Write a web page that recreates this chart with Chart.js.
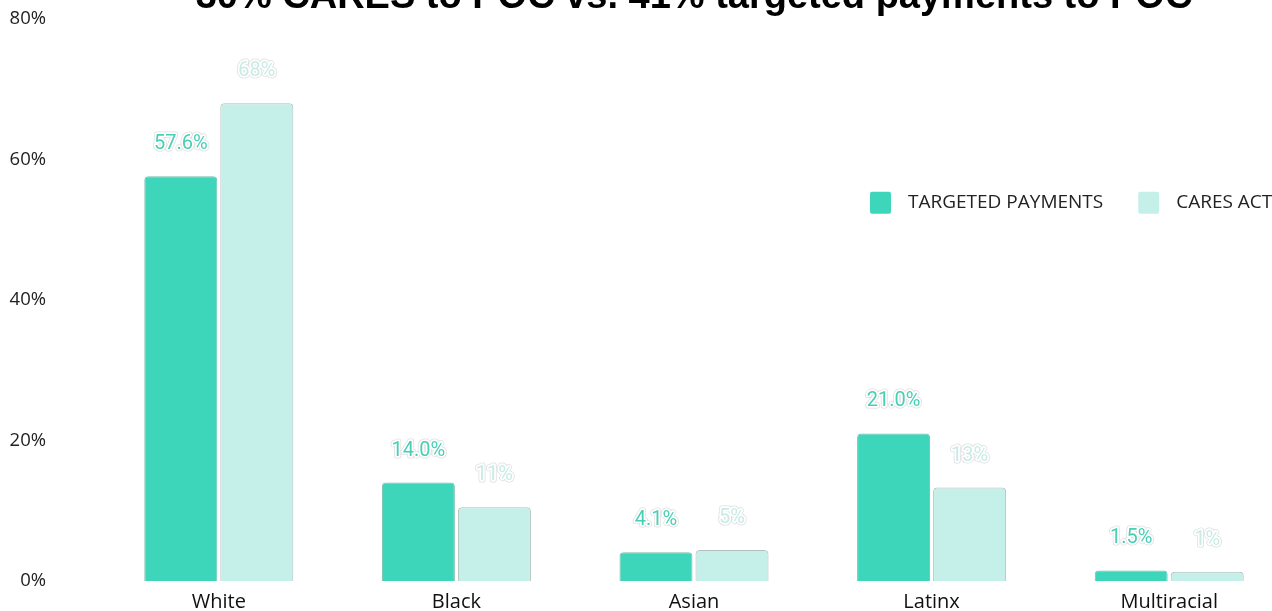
<!DOCTYPE html>
<html>
<head>
<meta charset="utf-8">
<script src="https://cdn.jsdelivr.net/npm/chart.js@4.4.1/dist/chart.umd.min.js"></script>
<style>
  html, body { margin: 0; padding: 0; background: #fff; overflow: hidden; width: 1272px; height: 611px; }
  #race { position: absolute; left: 0; top: -23px; }
</style>
</head>
<body>
<canvas id="race" width="1288" height="644"></canvas>
<script>
const groups = ['White', 'Black', 'Asian', 'Latinx', 'Multiracial'];
const targeted = [57.6, 14.0, 4.1, 21.0, 1.5];
const targetedLabels = ['57.6%', '14.0%', '4.1%', '21.0%', '1.5%'];
const cares = [68, 10.5, 4.4, 13.3, 1.3];
const caresLabels = ['68%', '11%', '5%', '13%', '1%'];
const yTicks = [0, 20, 40, 60, 80];

const teal = 'rgb(61, 214, 187)';
const paleTeal = 'rgb(197, 240, 233)';

// value labels above each bar, with a light halo
const barLabels = {
  id: 'barLabels',
  afterDatasetsDraw(chart) {
    const ctx = chart.ctx;
    ctx.save();
    ctx.font = '20px Roboto';
    ctx.textAlign = 'center';
    ctx.textBaseline = 'middle';
    ctx.lineJoin = 'round';
    chart.data.datasets.forEach((ds, i) => {
      const meta = chart.getDatasetMeta(i);
      meta.data.forEach((bar, j) => {
        const txt = ds.valueLabels[j];
        const y = bar.y - 32;
        ctx.strokeStyle = 'rgba(190,190,190,0.5)';
        ctx.lineWidth = 5;
        ctx.strokeText(txt, bar.x, y);
        ctx.strokeStyle = '#fff';
        ctx.lineWidth = 3.5;
        ctx.strokeText(txt, bar.x, y);
        ctx.fillStyle = ds.labelColor;
        ctx.fillText(txt, bar.x, y);
      });
    });
    ctx.restore();
  }
};

// legend floating inside the plot, right side
const floatLegend = {
  id: 'floatLegend',
  afterDraw(chart) {
    const ctx = chart.ctx;
    const area = chart.chartArea;
    let x = area.left + 770;
    const top = area.top + 173;
    ctx.save();
    ctx.font = '19px "Open Sans"';
    ctx.textBaseline = 'middle';
    chart.data.datasets.forEach(ds => {
      ctx.fillStyle = ds.backgroundColor;
      ctx.beginPath();
      ctx.roundRect(x, top, 21, 22, 2);
      ctx.fill();
      ctx.fillStyle = '#222';
      ctx.fillText(ds.label, x + 38, top + 11);
      x += 38 + ctx.measureText(ds.label).width + 35;
    });
    ctx.restore();
  }
};

const chart = new Chart(document.getElementById('race'), {
  type: 'bar',
  data: {
    labels: groups,
    datasets: [{
      label: 'TARGETED PAYMENTS',
      data: targeted,
      valueLabels: targetedLabels,
      labelColor: 'rgb(72, 208, 182)',
      backgroundColor: teal,
      borderColor: 'rgb(120, 190, 175)',
      borderWidth: 1,
      borderRadius: { topLeft: 4, topRight: 4 },
      categoryPercentage: 0.64,
      barPercentage: 0.96
    }, {
      label: 'CARES ACT',
      data: cares,
      valueLabels: caresLabels,
      labelColor: 'rgb(200, 236, 229)',
      backgroundColor: paleTeal,
      borderColor: 'rgb(180, 190, 188)',
      borderWidth: 1,
      borderRadius: { topLeft: 4, topRight: 4 },
      categoryPercentage: 0.64,
      barPercentage: 0.96
    }]
  },
  options: {
    responsive: false,
    animation: false,
    layout: { padding: 0 },
    plugins: {
      legend: { display: false },
      tooltip: { enabled: false },
      title: {
        display: true,
        fullSize: false,
        text: '30% CARES to POC vs. 41% targeted payments to POC',
        color: '#000',
        font: { family: '"Liberation Sans", Arial', size: 38, weight: 'bold', lineHeight: 1.1 },
        padding: 0
      }
    },
    scales: {
      x: {
        grid: { display: false, drawTicks: false },
        border: { display: false },
        ticks: { color: '#111', font: { family: '"Open Sans"', size: 20 }, padding: 9 },
        afterFit: s => { s.height = 40; }
      },
      y: {
        min: 0,
        max: 80,
        grid: { display: false, drawTicks: false },
        border: { display: false },
        afterBuildTicks: s => { s.ticks = yTicks.map(v => ({ value: v })); },
        ticks: {
          color: '#222',
          font: { family: '"Open Sans"', size: 18.5 },
          padding: 54,
          callback: v => v + '%'
        },
        afterFit: s => { s.width = 100; s.paddingTop = 10; s.paddingBottom = 10; }
      }
    }
  },
  plugins: [barLabels, floatLegend]
});
</script>
</body>
</html>
